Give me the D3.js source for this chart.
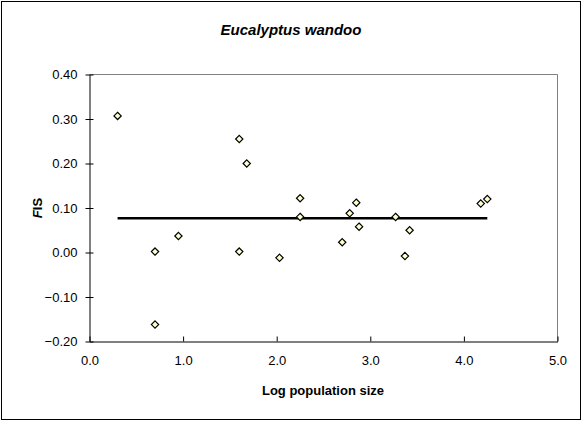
<!DOCTYPE html>
<html>
<head>
<meta charset="utf-8">
<script src="https://cdn.jsdelivr.net/npm/d3@7"></script>
<style>
 body{margin:0;background:#fff;}
 text{font-family:Arial,"Liberation Sans",sans-serif;}
</style>
</head>
<body>
<script>
// Eucalyptus wandoo: Fis against log population size
var logSize=[0.30,0.70,0.70,0.95,1.60,1.60,1.68,2.03,2.25,2.25,2.70,2.78,2.85,2.88,3.27,3.37,3.42,4.18,4.25];
var fis=[0.307,0.002,-0.162,0.037,0.255,0.002,0.200,-0.012,0.122,0.080,0.023,0.088,0.112,0.058,0.080,-0.008,0.050,0.110,0.120];
var meanLine=[[0.30,0.077],[4.25,0.077]];
var xTicks=[0,1,2,3,4,5];
var yTicks=[-0.2,-0.1,0,0.1,0.2,0.3,0.4];

var W=582,H=421;
var svg=d3.select("body").append("svg").attr("width",W).attr("height",H);

svg.append("rect").attr("x",1.5).attr("y",1.5).attr("width",W-3).attr("height",H-3)
 .attr("fill","#fff").attr("stroke","#000").attr("stroke-width",1);

var x=d3.scaleLinear().domain([0,5]).range([89.5,557.5]);
var y=d3.scaleLinear().domain([-0.2,0.4]).range([341.5,74.5]);

// plot frame (top and right in grey)
svg.append("path")
 .attr("d","M"+x(0)+","+y(0.4)+"H"+x(5)+"V"+y(-0.2))
 .attr("fill","none").attr("stroke","#808080").attr("stroke-width",1);

var gx=svg.append("g").attr("transform","translate(0,"+y(-0.2)+")")
 .call(d3.axisBottom(x).tickValues(xTicks).tickFormat(d3.format(".1f")).tickSize(5).tickSizeOuter(0));
var gy=svg.append("g").attr("transform","translate("+x(0)+",0)")
 .call(d3.axisLeft(y).tickValues(yTicks).tickFormat(d3.format(".2f")).tickSize(5).tickSizeOuter(0));

[gx,gy].forEach(function(g){
 g.select(".domain").attr("stroke","#000");
 g.selectAll(".tick line").attr("stroke","#000");
 g.selectAll(".tick text").attr("font-size","13px").attr("fill","#000")
  .attr("font-family","Arial,'Liberation Sans',sans-serif");
});
gx.selectAll(".tick line").attr("y2",-5);
gx.selectAll(".tick text").attr("y",14).attr("dy","0.71em");
gy.selectAll(".tick line").attr("x1",-4).attr("x2",4);
gy.selectAll(".tick text").attr("x",-12);

// mean line
svg.append("path")
 .attr("d",d3.line().x(function(d){return x(d[0]);}).y(function(d){return y(d[1]);})(meanLine))
 .attr("stroke","#000").attr("stroke-width",2.5).attr("fill","none");

// points
var diamond=d3.symbol().type(d3.symbolDiamond2).size(34);
svg.append("g").selectAll("path").data(logSize).enter().append("path")
 .attr("d",diamond)
 .attr("transform",function(d,i){return "translate("+x(d)+","+y(fis[i])+")";})
 .attr("fill","#ffffcc").attr("stroke","#000").attr("stroke-width",1.2);

svg.append("text").attr("x",291).attr("y",35).attr("text-anchor","middle")
 .attr("font-size","15px").attr("font-weight","bold").attr("font-style","italic")
 .text("Eucalyptus wandoo");

svg.append("text").attr("x",323).attr("y",395).attr("text-anchor","middle")
 .attr("font-size","13px").attr("font-weight","bold").text("Log population size");

var yl=svg.append("text").attr("transform","translate(42,208) rotate(-90)")
 .attr("text-anchor","middle").attr("font-size","13px").attr("font-weight","bold");
yl.append("tspan").attr("font-style","italic").text("F");
yl.append("tspan").text("IS");
</script>
</body>
</html>
